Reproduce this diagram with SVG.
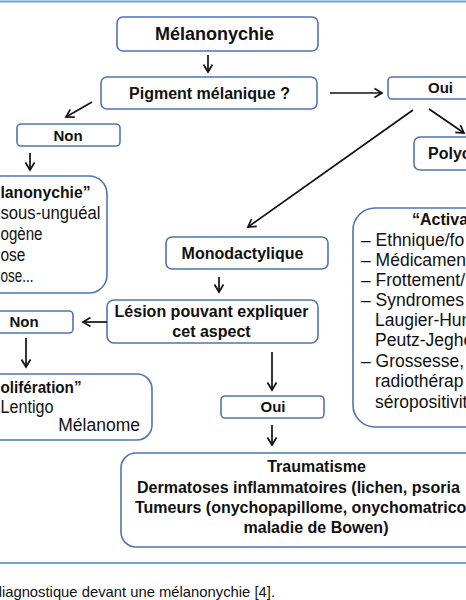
<svg xmlns="http://www.w3.org/2000/svg" width="466" height="600" viewBox="0 0 466 600">
<style>
.box{fill:#fff;stroke:#4f74b5;stroke-width:1.6}
.b{font-family:"Liberation Sans",Arial,sans-serif;font-weight:bold;font-size:16px;fill:#111}
.r{font-family:"Liberation Sans",Arial,sans-serif;font-size:17.5px;fill:#111}
.c{text-anchor:middle}
.e{text-anchor:end}
.rule{stroke:#6fa3de;stroke-width:2.2}
.arr{stroke:#111;stroke-width:1.7;fill:none;marker-end:url(#ah)}
</style>
<defs>
<marker id="ah" markerUnits="userSpaceOnUse" markerWidth="12" markerHeight="12" viewBox="-8 -6 10 12" refX="0" refY="0" orient="auto">
<path d="M-7.5,-4.5 L0,0 L-7.5,4.5" fill="none" stroke="#111" stroke-width="1.7"/>
</marker>
</defs>
<rect width="466" height="600" fill="#fff"/>
<line class="rule" x1="0" y1="1.5" x2="466" y2="1.5"/>
<line class="rule" x1="0" y1="563" x2="466" y2="563"/>
<g id="n-melanonychie"><rect class="box" x="117" y="17" width="201" height="34" rx="6"/><text class="b c" x="214.5" y="39.5" style="font-size:18px">Mélanonychie</text></g>
<g id="n-pigment"><rect class="box" x="101" y="77" width="216" height="32" rx="6"/><text class="b c" x="209.5" y="99">Pigment mélanique ?</text></g>
<g id="n-non1"><rect class="box" x="17" y="124" width="103" height="22" rx="4"/><text class="b c" x="68" y="141" style="font-size:15px">Non</text></g>
<g id="n-pseudo"><rect class="box" x="-150" y="176" width="257" height="117" rx="18"/>
<text class="b" x="0.5" y="198" textLength="90" lengthAdjust="spacingAndGlyphs">lanonychie”</text>
<text class="r" x="0.5" y="219" textLength="100" lengthAdjust="spacingAndGlyphs">sous-unguéal</text>
<text class="r" x="0.5" y="240" textLength="42" lengthAdjust="spacingAndGlyphs">ogène</text>
<text class="r" x="0.5" y="261" textLength="25" lengthAdjust="spacingAndGlyphs">ose</text>
<text class="r" x="0.5" y="282" textLength="33" lengthAdjust="spacingAndGlyphs">ose...</text></g>
<g id="n-oui1"><rect class="box" x="388" y="77" width="140" height="22" rx="4"/><text class="b c" x="440.5" y="93" style="font-size:15px">Oui</text></g>
<g id="n-poly"><rect class="box" x="414" y="137" width="120" height="33" rx="6"/><text class="b" x="428" y="159">Polyc</text></g>
<g id="n-mono"><rect class="box" x="166" y="237" width="162" height="32" rx="6"/><text class="b c" x="242.5" y="258.5">Monodactylique</text></g>
<g id="n-activ"><rect class="box" x="353" y="208" width="250" height="219" rx="22"/>
<text class="b" x="412" y="225">“Activa</text>
<text class="r" x="361" y="246">– Ethnique/fo</text>
<text class="r" x="361" y="266">– Médicament</text>
<text class="r" x="361" y="286">– Frottement/</text>
<text class="r" x="361" y="306">– Syndromes</text>
<text class="r" x="375" y="326">Laugier-Hun</text>
<text class="r" x="375" y="346">Peutz-Jeghe</text>
<text class="r" x="361" y="367">– Grossesse,</text>
<text class="r" x="375" y="387">radiothérap</text>
<text class="r" x="375" y="408">séropositivit</text></g>
<g id="n-lesion"><rect class="box" x="107" y="300" width="211" height="43" rx="7"/><text class="b c" x="211.5" y="317">Lésion pouvant expliquer</text><text class="b c" x="211.5" y="337">cet aspect</text></g>
<g id="n-non2"><rect class="box" x="-40" y="311" width="113" height="22" rx="4"/><text class="b c" x="24" y="327" style="font-size:15px">Non</text></g>
<g id="n-prolif"><rect class="box" x="-150" y="374" width="302" height="66" rx="15"/>
<text class="b" x="0.5" y="393" textLength="81" lengthAdjust="spacingAndGlyphs">olifération”</text>
<text class="r" x="0.5" y="413" textLength="53" lengthAdjust="spacingAndGlyphs">Lentigo</text>
<text class="r e" x="140" y="431">Mélanome</text></g>
<g id="n-oui2"><rect class="box" x="221" y="396" width="103" height="22" rx="4"/><text class="b c" x="273" y="412" style="font-size:15px">Oui</text></g>
<g id="n-causes"><rect class="box" x="121" y="453" width="480" height="94" rx="15"/>
<text class="b c" x="316.5" y="472">Traumatisme</text>
<text class="b" x="137" y="493">Dermatoses inflammatoires (lichen, psoria</text>
<text class="b" x="135" y="513">Tumeurs (onychopapillome, onychomatrico</text>
<text class="b c" x="316" y="533">maladie de Bowen)</text></g>
<g id="connectors">
<line class="arr" x1="208" y1="55" x2="208" y2="72"/>
<line class="arr" x1="92" y1="102" x2="66" y2="117"/>
<line class="arr" x1="30" y1="153" x2="30" y2="170"/>
<line class="arr" x1="330" y1="93" x2="382" y2="93"/>
<line class="arr" x1="413" y1="110" x2="248" y2="227"/>
<line class="arr" x1="429" y1="109" x2="464" y2="133"/>
<line class="arr" x1="219" y1="277" x2="219" y2="292"/>
<line class="arr" x1="107" y1="322" x2="83" y2="322"/>
<line class="arr" x1="26" y1="338" x2="26" y2="367"/>
<line class="arr" x1="272" y1="352" x2="272" y2="390"/>
<line class="arr" x1="272" y1="425" x2="272" y2="445"/>
</g>
<text class="r e" x="275" y="597" style="font-size:14.8px">diagnostique devant une mélanonychie [4].</text>
</svg>
